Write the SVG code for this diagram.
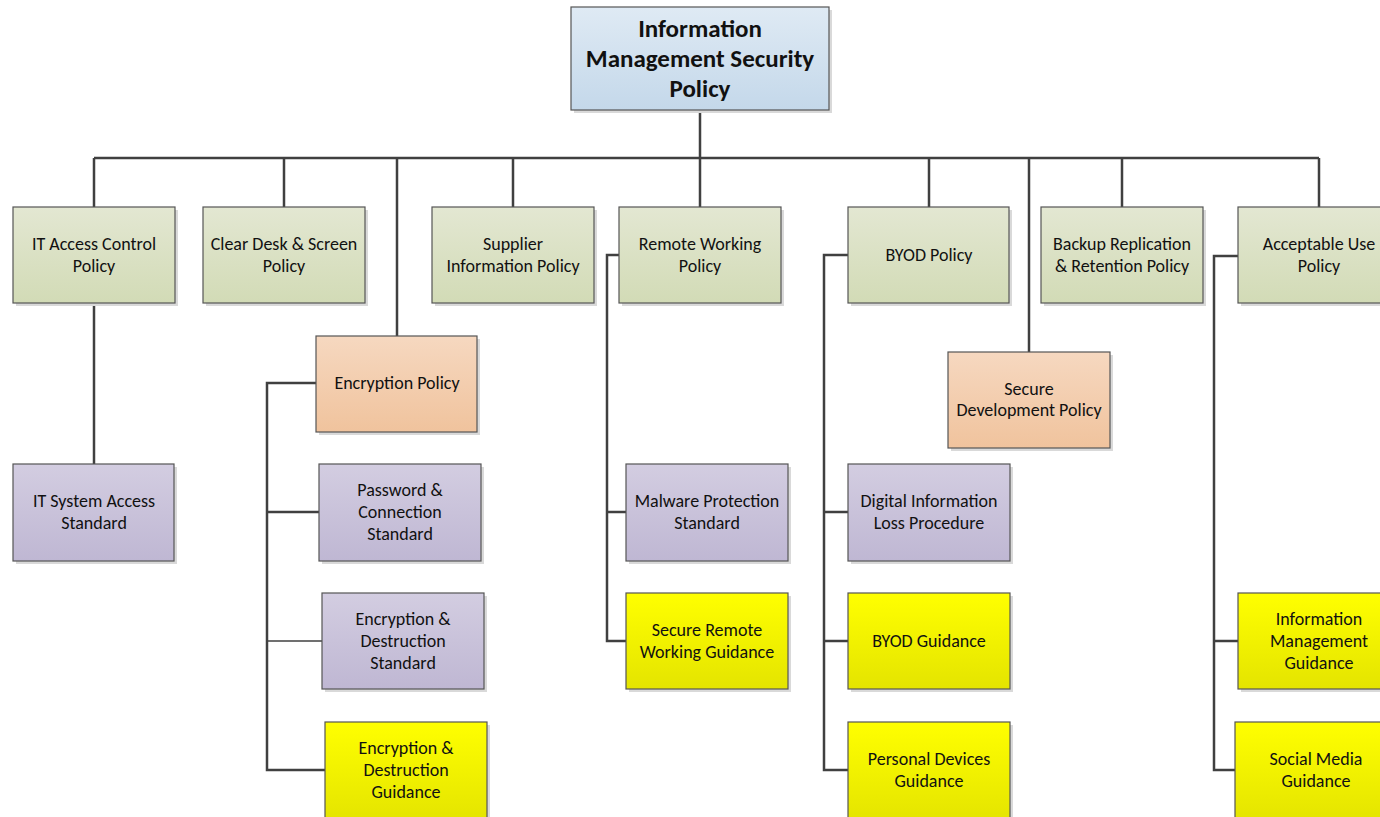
<svg xmlns="http://www.w3.org/2000/svg" width="1380" height="817" viewBox="0 0 1380 817">
<style>
.sh{fill:#d9d9d9}
.bx{stroke:#555;stroke-width:1.2}
.blue{fill:url(#gBlue)}
.green{fill:url(#gGreen)}
.orange{fill:url(#gOrange)}
.purple{fill:url(#gPurple)}
.yellow{fill:url(#gYellow)}
text{font-family:Carlito,Lato,"Liberation Sans",sans-serif;font-size:18px;fill:#111;text-anchor:middle}
.title{font-size:25px;font-weight:bold}
.c{fill:none;stroke:#404040;stroke-width:2.5}
.t{fill:none;stroke:#404040;stroke-width:1.3}
</style>
<defs>
<linearGradient id="gBlue" x1="0" y1="0" x2="0" y2="1"><stop offset="0" stop-color="#dfeaf4"/><stop offset="1" stop-color="#c4d8ea"/></linearGradient>
<linearGradient id="gGreen" x1="0" y1="0" x2="0" y2="1"><stop offset="0" stop-color="#e3e7d2"/><stop offset="1" stop-color="#d2dbb6"/></linearGradient>
<linearGradient id="gOrange" x1="0" y1="0" x2="0" y2="1"><stop offset="0" stop-color="#f6d8c0"/><stop offset="1" stop-color="#f0c39d"/></linearGradient>
<linearGradient id="gPurple" x1="0" y1="0" x2="0" y2="1"><stop offset="0" stop-color="#d3cde1"/><stop offset="1" stop-color="#bfb7d3"/></linearGradient>
<linearGradient id="gYellow" x1="0" y1="0" x2="0" y2="1"><stop offset="0" stop-color="#ffff00"/><stop offset="1" stop-color="#e4e400"/></linearGradient>
</defs>
<rect width="1380" height="817" fill="#fff"/>

<g id="connectors">
<path class="c" d="M700 110V158M94 158H1319M94 158V207M284 158V207M397 158V336M513 158V207M700 158V207M929 158V207M1029 158V352M1122 158V207M1319 158V207"/>
<path class="c" d="M94 303V464"/>
<path class="c" d="M316 383H267V770H325M267 512H319"/>
<path class="t" d="M267 641H322"/>
<path class="c" d="M619 255H607V641H626M607 512H626"/>
<path class="c" d="M848 255H824V770H848M824 512H848M824 641H848"/>
<path class="c" d="M1238 256H1214V770H1235M1214 641H1238"/>
</g>

<g id="n-root"><rect class="sh" x="574" y="10" width="258" height="103"/><rect class="bx blue" x="571" y="7" width="258" height="103"/>
<text class="title" x="700" y="37">Information</text><text class="title" x="700" y="67">Management Security</text><text class="title" x="700" y="97">Policy</text></g>

<g id="n-itac"><rect class="sh" x="16" y="210" width="162" height="96"/><rect class="bx green" x="13" y="207" width="162" height="96"/>
<text x="94" y="250">IT Access Control</text><text x="94" y="272">Policy</text></g>

<g id="n-clear"><rect class="sh" x="206" y="210" width="162" height="96"/><rect class="bx green" x="203" y="207" width="162" height="96"/>
<text x="284" y="250">Clear Desk &amp; Screen</text><text x="284" y="272">Policy</text></g>

<g id="n-supplier"><rect class="sh" x="435" y="210" width="162" height="96"/><rect class="bx green" x="432" y="207" width="162" height="96"/>
<text x="513" y="250">Supplier</text><text x="513" y="272">Information Policy</text></g>

<g id="n-remote"><rect class="sh" x="622" y="210" width="162" height="96"/><rect class="bx green" x="619" y="207" width="162" height="96"/>
<text x="700" y="250">Remote Working</text><text x="700" y="272">Policy</text></g>

<g id="n-byod"><rect class="sh" x="851" y="210" width="161" height="96"/><rect class="bx green" x="848" y="207" width="161" height="96"/>
<text x="929" y="261">BYOD Policy</text></g>

<g id="n-backup"><rect class="sh" x="1044" y="210" width="162" height="96"/><rect class="bx green" x="1041" y="207" width="162" height="96"/>
<text x="1122" y="250">Backup Replication</text><text x="1122" y="272">&amp; Retention Policy</text></g>

<g id="n-aup"><rect class="sh" x="1241" y="210" width="162" height="96"/><rect class="bx green" x="1238" y="207" width="162" height="96"/>
<text x="1319" y="250">Acceptable Use</text><text x="1319" y="272">Policy</text></g>

<g id="n-encpol"><rect class="sh" x="319" y="339" width="161" height="96"/><rect class="bx orange" x="316" y="336" width="161" height="96"/>
<text x="397" y="389">Encryption Policy</text></g>

<g id="n-secdev"><rect class="sh" x="951" y="355" width="162" height="96"/><rect class="bx orange" x="948" y="352" width="162" height="96"/>
<text x="1029" y="395">Secure</text><text x="1029" y="416">Development Policy</text></g>

<g id="n-itsys"><rect class="sh" x="16" y="467" width="161" height="97"/><rect class="bx purple" x="13" y="464" width="161" height="97"/>
<text x="94" y="507">IT System Access</text><text x="94" y="529">Standard</text></g>

<g id="n-pwd"><rect class="sh" x="322" y="467" width="162" height="97"/><rect class="bx purple" x="319" y="464" width="162" height="97"/>
<text x="400" y="496">Password &amp;</text><text x="400" y="518">Connection</text><text x="400" y="540">Standard</text></g>

<g id="n-encstd"><rect class="sh" x="325" y="596" width="162" height="96"/><rect class="bx purple" x="322" y="593" width="162" height="96"/>
<text x="403" y="625">Encryption &amp;</text><text x="403" y="647">Destruction</text><text x="403" y="669">Standard</text></g>

<g id="n-encguid"><rect class="sh" x="328" y="725" width="162" height="100"/><rect class="bx yellow" x="325" y="722" width="162" height="100"/>
<text x="406" y="754">Encryption &amp;</text><text x="406" y="776">Destruction</text><text x="406" y="798">Guidance</text></g>

<g id="n-malware"><rect class="sh" x="629" y="467" width="162" height="97"/><rect class="bx purple" x="626" y="464" width="162" height="97"/>
<text x="707" y="507">Malware Protection</text><text x="707" y="529">Standard</text></g>

<g id="n-srwg"><rect class="sh" x="629" y="596" width="162" height="96"/><rect class="bx yellow" x="626" y="593" width="162" height="96"/>
<text x="707" y="636">Secure Remote</text><text x="707" y="658">Working Guidance</text></g>

<g id="n-dilp"><rect class="sh" x="851" y="467" width="162" height="97"/><rect class="bx purple" x="848" y="464" width="162" height="97"/>
<text x="929" y="507">Digital Information</text><text x="929" y="529">Loss Procedure</text></g>

<g id="n-byodg"><rect class="sh" x="851" y="596" width="162" height="96"/><rect class="bx yellow" x="848" y="593" width="162" height="96"/>
<text x="929" y="647">BYOD Guidance</text></g>

<g id="n-pdg"><rect class="sh" x="851" y="725" width="162" height="100"/><rect class="bx yellow" x="848" y="722" width="162" height="100"/>
<text x="929" y="765">Personal Devices</text><text x="929" y="787">Guidance</text></g>

<g id="n-img"><rect class="sh" x="1241" y="596" width="162" height="96"/><rect class="bx yellow" x="1238" y="593" width="162" height="96"/>
<text x="1319" y="625">Information</text><text x="1319" y="647">Management</text><text x="1319" y="669">Guidance</text></g>

<g id="n-smg"><rect class="sh" x="1238" y="725" width="162" height="100"/><rect class="bx yellow" x="1235" y="722" width="162" height="100"/>
<text x="1316" y="765">Social Media</text><text x="1316" y="787">Guidance</text></g>
</svg>
